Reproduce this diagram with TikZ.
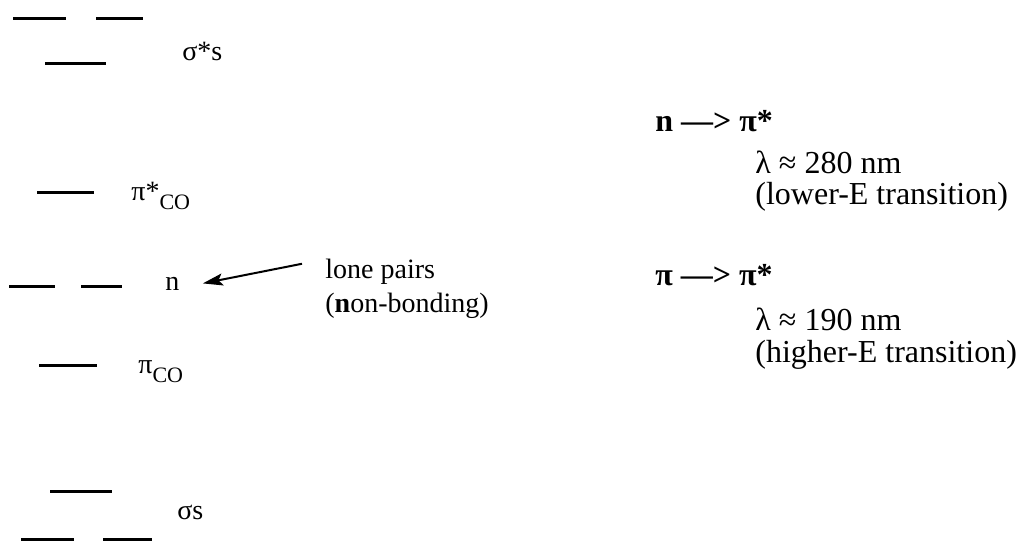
\documentclass[tikz,border=0pt]{standalone}
\usepackage{fontspec}
\setmainfont{Liberation Serif}
\usetikzlibrary{arrows.meta}

\newcommand{\subCO}{\raisebox{-4.5pt}{\fontsize{11}{11}\selectfont CO}}

\begin{document}
\begin{tikzpicture}[x=0.5pt,y=-0.5pt,
    level/.style={line width=1.5pt},
    lbl/.style={anchor=base west, inner sep=0pt, font=\fontsize{14}{16}\selectfont},
    note/.style={lbl, font=\fontsize{16}{18}\selectfont}]
    \useasboundingbox (0,0) rectangle (1021,540);

    % Define level end points (sigma* on top)
    \coordinate (SA1) at (13, 19);   % Top-left
    \coordinate (SA2) at (66, 19);
    \coordinate (SA3) at (96, 19);   % Top-right
    \coordinate (SA4) at (143, 19);
    \coordinate (SA5) at (45, 64);   % Lower middle
    \coordinate (SA6) at (106, 64);

    % pi* and n and pi levels
    \coordinate (P1) at (37, 192);   % pi*
    \coordinate (P2) at (94, 192);
    \coordinate (N1) at (9, 286);    % n left
    \coordinate (N2) at (55, 286);
    \coordinate (N3) at (81, 286);   % n right
    \coordinate (N4) at (122, 286);
    \coordinate (Q1) at (39, 365);   % pi
    \coordinate (Q2) at (97, 365);

    % sigma levels (bottom)
    \coordinate (S1) at (50, 491);   % Upper middle
    \coordinate (S2) at (112, 491);
    \coordinate (S3) at (21, 539);   % Bottom-left
    \coordinate (S4) at (74, 539);
    \coordinate (S5) at (103, 539);  % Bottom-right
    \coordinate (S6) at (152, 539);

    % Draw the levels
    \draw[level] (SA1) -- (SA2);
    \draw[level] (SA3) -- (SA4);
    \draw[level] (SA5) -- (SA6);
    \draw[level] (P1) -- (P2);
    \draw[level] (N1) -- (N2);
    \draw[level] (N3) -- (N4);
    \draw[level] (Q1) -- (Q2);
    \draw[level] (S1) -- (S2);
    \draw[level] (S3) -- (S4);
    \draw[level] (S5) -- (S6);

    % Label the levels
    \node[lbl] (sigstar) at (182, 61) {σ*s};
    \node[lbl] (pistar) at (131, 200) {π*\subCO};
    \node[lbl] (n) at (165, 290) {n};
    \node[lbl] (pico) at (138, 373) {π\subCO};
    \node[lbl] (sig) at (177, 519) {σs};

    % Lone pair note
    \node[lbl] (lone) at (325, 278) {lone pairs};
    \node[lbl] (nonb) at (325, 312) {(\textbf{n}on-bonding)};
    \draw[line width=1pt, -{Stealth[length=10pt, width=6pt, inset=2pt]}]
        ([xshift=-11.5pt, yshift=3.75pt]lone.west) -- ([xshift=11.5pt]n.east);

    % Transitions
    \node[note] (trn) at (655, 132) {\textbf{n —> π*}};
    \node[note] (lamn) at (755, 173) {λ ≈ 280 nm};
    \node[note] (engn) at (755, 204) {(lower-E transition)};
    \node[note] (trp) at (655, 285) {\textbf{π —> π*}};
    \node[note] (lamp) at (755, 330) {λ ≈ 190 nm};
    \node[note] (engp) at (755, 362) {(higher-E transition)};

\end{tikzpicture}
\end{document}
